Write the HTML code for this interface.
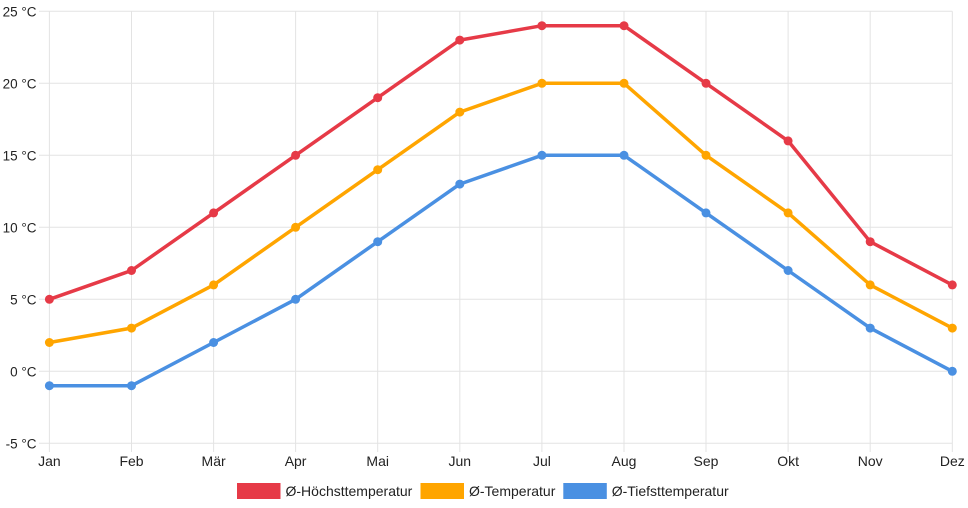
<!DOCTYPE html>
<html><head><meta charset="utf-8"><style>
html,body{margin:0;padding:0;background:#fff;}
svg{display:block;font-family:"Liberation Sans",Arial,sans-serif;}
</style></head><body>
<svg width="968" height="508" viewBox="0 0 968 508" xmlns="http://www.w3.org/2000/svg">
<g stroke="#e3e3e3" stroke-width="1" fill="none">
<line x1="39" y1="11.3" x2="952.3" y2="11.3"/>
<line x1="39" y1="83.3" x2="952.3" y2="83.3"/>
<line x1="39" y1="155.3" x2="952.3" y2="155.3"/>
<line x1="39" y1="227.3" x2="952.3" y2="227.3"/>
<line x1="39" y1="299.3" x2="952.3" y2="299.3"/>
<line x1="39" y1="371.3" x2="952.3" y2="371.3"/>
<line x1="39" y1="443.3" x2="952.3" y2="443.3"/>
<line x1="49.4" y1="11.3" x2="49.4" y2="452"/>
<line x1="131.5" y1="11.3" x2="131.5" y2="452"/>
<line x1="213.6" y1="11.3" x2="213.6" y2="452"/>
<line x1="295.6" y1="11.3" x2="295.6" y2="452"/>
<line x1="377.7" y1="11.3" x2="377.7" y2="452"/>
<line x1="459.8" y1="11.3" x2="459.8" y2="452"/>
<line x1="541.9" y1="11.3" x2="541.9" y2="452"/>
<line x1="624.0" y1="11.3" x2="624.0" y2="452"/>
<line x1="706.0" y1="11.3" x2="706.0" y2="452"/>
<line x1="788.1" y1="11.3" x2="788.1" y2="452"/>
<line x1="870.2" y1="11.3" x2="870.2" y2="452"/>
<line x1="952.3" y1="11.3" x2="952.3" y2="452"/>
</g>
<g fill="#222" font-size="13.5" text-anchor="end">
<text x="36.5" y="16.3">25 °C</text>
<text x="36.5" y="88.3">20 °C</text>
<text x="36.5" y="160.3">15 °C</text>
<text x="36.5" y="232.3">10 °C</text>
<text x="36.5" y="304.3">5 °C</text>
<text x="36.5" y="376.3">0 °C</text>
<text x="36.5" y="448.3">-5 °C</text>
</g>
<g fill="#222" font-size="14" text-anchor="middle">
<text x="49.4" y="466">Jan</text>
<text x="131.5" y="466">Feb</text>
<text x="213.6" y="466">Mär</text>
<text x="295.6" y="466">Apr</text>
<text x="377.7" y="466">Mai</text>
<text x="459.8" y="466">Jun</text>
<text x="541.9" y="466">Jul</text>
<text x="624.0" y="466">Aug</text>
<text x="706.0" y="466">Sep</text>
<text x="788.1" y="466">Okt</text>
<text x="870.2" y="466">Nov</text>
<text x="952.3" y="466">Dez</text>
</g>
<g fill="none" stroke-width="3.5" stroke-linejoin="round">
<polyline stroke="#e63a47" points="49.4,299.3 131.5,270.5 213.6,212.9 295.6,155.3 377.7,97.7 459.8,40.1 541.9,25.7 624.0,25.7 706.0,83.3 788.1,140.9 870.2,241.7 952.3,284.9"/>
<polyline stroke="#ffa500" points="49.4,342.5 131.5,328.1 213.6,284.9 295.6,227.3 377.7,169.7 459.8,112.1 541.9,83.3 624.0,83.3 706.0,155.3 788.1,212.9 870.2,284.9 952.3,328.1"/>
<polyline stroke="#4a90e2" points="49.4,385.7 131.5,385.7 213.6,342.5 295.6,299.3 377.7,241.7 459.8,184.1 541.9,155.3 624.0,155.3 706.0,212.9 788.1,270.5 870.2,328.1 952.3,371.3"/>
</g>
<g fill="#e63a47">
<circle cx="49.4" cy="299.3" r="4.5"/><circle cx="131.5" cy="270.5" r="4.5"/><circle cx="213.6" cy="212.9" r="4.5"/><circle cx="295.6" cy="155.3" r="4.5"/><circle cx="377.7" cy="97.7" r="4.5"/><circle cx="459.8" cy="40.1" r="4.5"/><circle cx="541.9" cy="25.7" r="4.5"/><circle cx="624.0" cy="25.7" r="4.5"/><circle cx="706.0" cy="83.3" r="4.5"/><circle cx="788.1" cy="140.9" r="4.5"/><circle cx="870.2" cy="241.7" r="4.5"/><circle cx="952.3" cy="284.9" r="4.5"/>
</g>
<g fill="#ffa500">
<circle cx="49.4" cy="342.5" r="4.5"/><circle cx="131.5" cy="328.1" r="4.5"/><circle cx="213.6" cy="284.9" r="4.5"/><circle cx="295.6" cy="227.3" r="4.5"/><circle cx="377.7" cy="169.7" r="4.5"/><circle cx="459.8" cy="112.1" r="4.5"/><circle cx="541.9" cy="83.3" r="4.5"/><circle cx="624.0" cy="83.3" r="4.5"/><circle cx="706.0" cy="155.3" r="4.5"/><circle cx="788.1" cy="212.9" r="4.5"/><circle cx="870.2" cy="284.9" r="4.5"/><circle cx="952.3" cy="328.1" r="4.5"/>
</g>
<g fill="#4a90e2">
<circle cx="49.4" cy="385.7" r="4.5"/><circle cx="131.5" cy="385.7" r="4.5"/><circle cx="213.6" cy="342.5" r="4.5"/><circle cx="295.6" cy="299.3" r="4.5"/><circle cx="377.7" cy="241.7" r="4.5"/><circle cx="459.8" cy="184.1" r="4.5"/><circle cx="541.9" cy="155.3" r="4.5"/><circle cx="624.0" cy="155.3" r="4.5"/><circle cx="706.0" cy="212.9" r="4.5"/><circle cx="788.1" cy="270.5" r="4.5"/><circle cx="870.2" cy="328.1" r="4.5"/><circle cx="952.3" cy="371.3" r="4.5"/>
</g>
<rect x="237" y="483" width="43.5" height="16" fill="#e63a47"/>
<rect x="420.5" y="483" width="43.5" height="16" fill="#ffa500"/>
<rect x="563.3" y="483" width="43.5" height="16" fill="#4a90e2"/>
<g fill="#222" font-size="14">
<text x="285.5" y="496">Ø-Höchsttemperatur</text>
<text x="469" y="496">Ø-Temperatur</text>
<text x="611.7" y="496">Ø-Tiefsttemperatur</text>
</g>
</svg>
</body></html>
